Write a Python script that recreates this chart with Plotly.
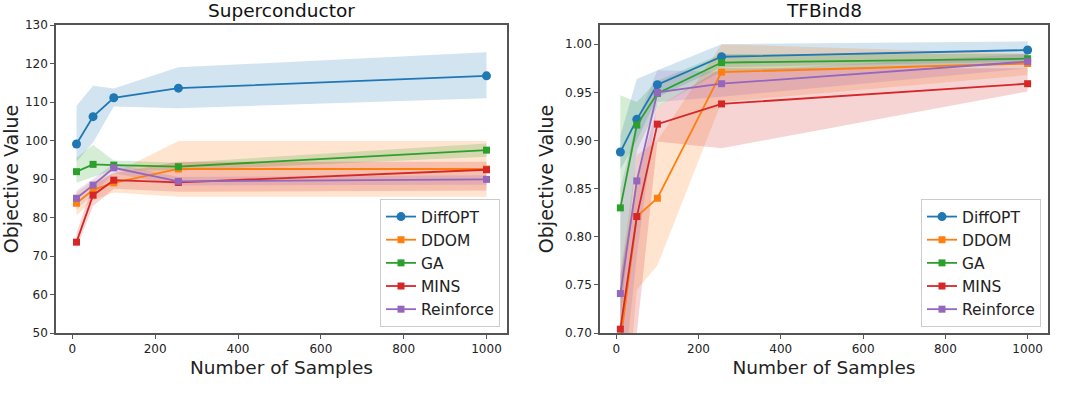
import plotly.graph_objects as go

# sample counts (x axis)
samples = [10, 50, 100, 256, 1000]
methods = ["DiffOPT", "DDOM", "GA", "MINS", "Reinforce"]
colors = ["#1f77b4", "#ff7f0e", "#2ca02c", "#d62728", "#9467bd"]
symbols = ["circle", "square", "square", "square", "square"]

# Superconductor: mean, upper and lower band
sc_diffopt = [99.1, 106.2, 111.1, 113.6, 116.8]
sc_diffopt_hi = [109.0, 114.2, 113.5, 119.0, 122.9]
sc_diffopt_lo = [94.5, 99.5, 108.8, 108.4, 111.0]
sc_ddom = [83.7, 87.2, 89.0, 92.6, 92.6]
sc_ddom_hi = [86.5, 89.5, 91.5, 99.9, 99.9]
sc_ddom_lo = [80.5, 84.5, 86.5, 85.4, 85.4]
sc_ga = [91.9, 93.8, 93.6, 93.2, 97.5]
sc_ga_hi = [95.5, 98.8, 94.8, 94.2, 99.2]
sc_ga_lo = [89.0, 90.5, 92.3, 92.2, 95.8]
sc_mins = [73.6, 85.8, 89.7, 89.1, 92.4]
sc_mins_hi = [76.0, 88.5, 91.5, 94.5, 94.5]
sc_mins_lo = [72.0, 83.0, 87.5, 86.7, 87.0]
sc_reinforce = [85.0, 88.4, 92.9, 89.4, 89.9]
sc_reinforce_hi = [87.0, 90.0, 94.0, 90.5, 91.0]
sc_reinforce_lo = [82.0, 86.0, 91.5, 88.3, 88.5]

# TFBind8
tf_diffopt = [0.888, 0.922, 0.958, 0.987, 0.994]
tf_diffopt_hi = [0.905, 0.964, 0.973, 1.000, 1.003]
tf_diffopt_lo = [0.870, 0.900, 0.945, 0.976, 0.982]
tf_ddom = [0.690, 0.821, 0.840, 0.971, 0.980]
tf_ddom_hi = [0.760, 0.885, 0.900, 1.000, 0.990]
tf_ddom_lo = [0.550, 0.745, 0.770, 0.940, 0.968]
tf_ga = [0.830, 0.916, 0.949, 0.981, 0.985]
tf_ga_hi = [0.947, 0.940, 0.962, 0.990, 0.990]
tf_ga_lo = [0.710, 0.890, 0.935, 0.972, 0.979]
tf_mins = [0.704, 0.821, 0.917, 0.938, 0.959]
tf_mins_hi = [0.760, 0.860, 0.935, 0.975, 0.975]
tf_mins_lo = [0.620, 0.700, 0.899, 0.892, 0.951]
tf_reinforce = [0.741, 0.858, 0.950, 0.959, 0.982]
tf_reinforce_hi = [0.850, 0.920, 0.973, 0.9715, 0.990]
tf_reinforce_lo = [0.620, 0.780, 0.940, 0.9455, 0.975]

sc_series = [
    (sc_diffopt, sc_diffopt_lo, sc_diffopt_hi),
    (sc_ddom, sc_ddom_lo, sc_ddom_hi),
    (sc_ga, sc_ga_lo, sc_ga_hi),
    (sc_mins, sc_mins_lo, sc_mins_hi),
    (sc_reinforce, sc_reinforce_lo, sc_reinforce_hi),
]
tf_series = [
    (tf_diffopt, tf_diffopt_lo, tf_diffopt_hi),
    (tf_ddom, tf_ddom_lo, tf_ddom_hi),
    (tf_ga, tf_ga_lo, tf_ga_hi),
    (tf_mins, tf_mins_lo, tf_mins_hi),
    (tf_reinforce, tf_reinforce_lo, tf_reinforce_hi),
]


def rgba(hex_color, a):
    h = hex_color.lstrip("#")
    return "rgba(%d,%d,%d,%s)" % (int(h[0:2], 16), int(h[2:4], 16), int(h[4:6], 16), a)


fig = go.Figure()


def add_panel(series, xref, yref, legend):
    # bands first, then lines on top
    for (mean, lo, hi), c in zip(series, colors):
        fig.add_trace(go.Scatter(
            x=samples + samples[::-1], y=hi + lo[::-1],
            fill="toself", fillcolor=rgba(c, 0.2), line=dict(width=0),
            mode="lines", showlegend=False, hoverinfo="skip",
            xaxis=xref, yaxis=yref))
    for (mean, lo, hi), name, c, s in zip(series, methods, colors, symbols):
        fig.add_trace(go.Scatter(
            x=samples, y=mean, name=name, mode="lines+markers",
            line=dict(color=c, width=1.8),
            marker=dict(symbol=s, size=9 if s == "circle" else 7, color=c),
            xaxis=xref, yaxis=yref, legend=legend))


add_panel(sc_series, "x", "y", "legend")
add_panel(tf_series, "x2", "y2", "legend2")

W, H = 1065, 393


def px(x):
    return x / W


def py(y):
    return 1 - y / H


axis_style = dict(
    showline=True, linecolor="#555", linewidth=1.6, mirror=True, automargin=False,
    ticks="outside", ticklen=4, tickcolor="#555", showgrid=False, zeroline=False,
    tickfont=dict(family="DejaVu Sans", size=12, color="#222"),
)
y0, y1 = py(333), py(25)

legend_style = dict(
    bordercolor="#ccc", borderwidth=1, bgcolor="rgba(255,255,255,0.85)",
    font=dict(family="DejaVu Sans", size=15.5, color="#222"),
    xanchor="right", yanchor="bottom", y=py(327), tracegroupgap=0,
)

fig.update_layout(
    width=W, height=H,
    margin=dict(l=0, r=0, t=0, b=0),
    paper_bgcolor="white", plot_bgcolor="white",
    font=dict(family="DejaVu Sans", color="#222"),
    xaxis=dict(axis_style, domain=[px(56), px(507)], range=[-39.5, 1049.5],
               tickvals=[0, 200, 400, 600, 800, 1000], anchor="y",
               title=dict(text="Number of Samples", font=dict(size=18.5), standoff=6)),
    yaxis=dict(axis_style, domain=[y0, y1], range=[50, 130], dtick=10, anchor="x",
               title=dict(text="Objective Value", font=dict(size=19), standoff=6)),
    xaxis2=dict(axis_style, domain=[px(600), px(1048)], range=[-39.5, 1049.5],
                tickvals=[0, 200, 400, 600, 800, 1000], anchor="y2",
                title=dict(text="Number of Samples", font=dict(size=18.5), standoff=6)),
    yaxis2=dict(axis_style, domain=[y0, y1], range=[0.70, 1.02],
                tickvals=[0.70, 0.75, 0.80, 0.85, 0.90, 0.95, 1.00], tickformat=".2f",
                anchor="x2",
                title=dict(text="Objective Value", font=dict(size=19), standoff=6)),
    legend=dict(legend_style, x=px(500)),
    legend2=dict(legend_style, x=px(1041)),
)

fig.add_annotation(text="Superconductor", x=px((56 + 507) / 2), y=y1, xref="paper", yref="paper",
                   xanchor="center", yanchor="bottom", yshift=2, showarrow=False,
                   font=dict(family="DejaVu Sans", size=18.5, color="#111"))
fig.add_annotation(text="TFBind8", x=px((600 + 1048) / 2), y=y1, xref="paper", yref="paper",
                   xanchor="center", yanchor="bottom", yshift=2, showarrow=False,
                   font=dict(family="DejaVu Sans", size=18.5, color="#111"))

# drop the default 8px page margin so the figure sits at the window corner
fig.write_html("out.html", config={"displayModeBar": False},
               post_script="document.body.style.margin='0px';")
